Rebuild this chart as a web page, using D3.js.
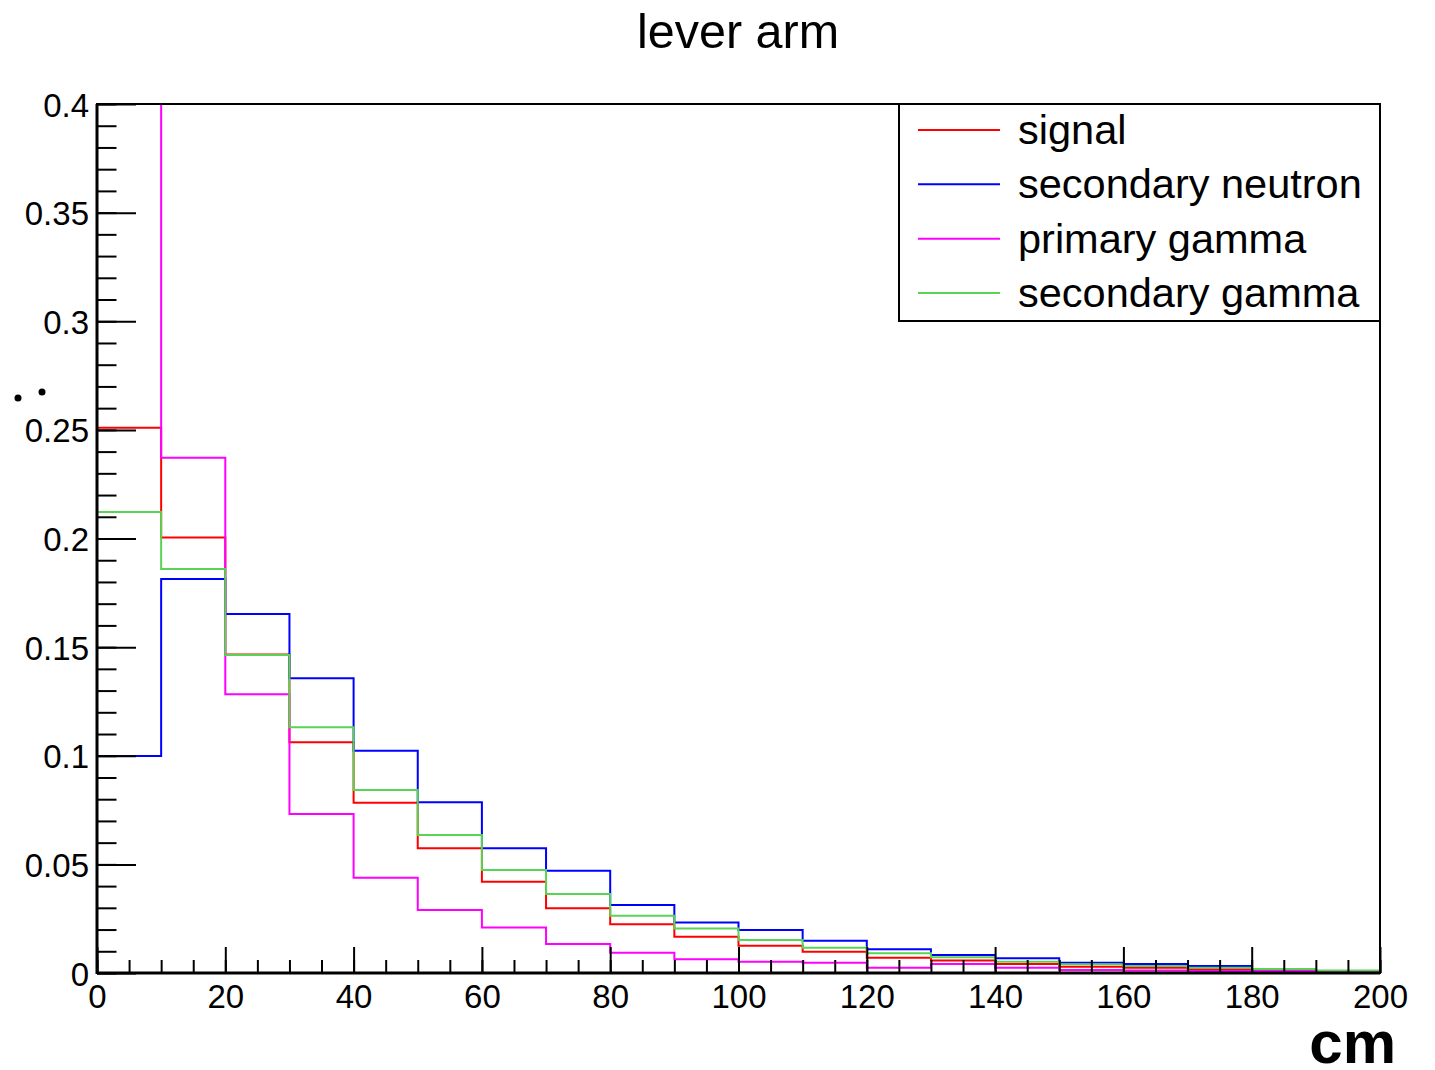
<!DOCTYPE html>
<html>
  <head>
    <meta http-equiv="Content-Type" content="text/html; charset=utf-8" />
    <script src="https://d3js.org/d3.v7.min.js"></script>
    <style>
      body {
        margin: 0;
        background: white;
        font-family: 'Liberation Sans', Arial, Helvetica, sans-serif;
      }
      svg text { fill: black; }
    </style>
  </head>
  <body>
    <div id="wrapper"></div>
    <script>

// bin edges in cm (20 bins of 10 cm)
const binLow = [0, 10, 20, 30, 40, 50, 60, 70, 80, 90, 100, 110, 120, 130, 140, 150, 160, 170, 180, 190]
const binWidth = 10

// normalised histogram contents
const signal = [0.251, 0.2005, 0.1466, 0.1062, 0.0784, 0.0574, 0.0420, 0.0298, 0.0224, 0.0167,
                0.0126, 0.0098, 0.0070, 0.0057, 0.0041, 0.0029, 0.0024, 0.0017, 0.0014, 0.0007]
const secondaryNeutron = [0.0999, 0.1814, 0.1652, 0.1357, 0.1023, 0.0786, 0.0574, 0.0471, 0.0313, 0.0232,
                0.0198, 0.0149, 0.0109, 0.0083, 0.0068, 0.0047, 0.0041, 0.0032, 0.0018, 0.0009]
const primaryGamma = [0.416, 0.2372, 0.1283, 0.0732, 0.0439, 0.0290, 0.0210, 0.0133, 0.0093, 0.0063,
                0.0052, 0.0047, 0.0024, 0.0041, 0.0024, 0.0014, 0.0011, 0.0009, 0.0009, 0.0005]
const secondaryGamma = [0.2122, 0.1860, 0.1464, 0.1131, 0.0842, 0.0635, 0.0474, 0.0364, 0.0264, 0.0205,
                0.0152, 0.0116, 0.0091, 0.0072, 0.0052, 0.0040, 0.0032, 0.0024, 0.0018, 0.0011]

const seriesNames = ["signal", "secondary neutron", "primary gamma", "secondary gamma"]
const seriesColors = ["#ff0000", "#0000ff", "#ff00ff", "#59d354"]

const xMajor = [0, 20, 40, 60, 80, 100, 120, 140, 160, 180, 200]
const yMajor = [0, 0.05, 0.1, 0.15, 0.2, 0.25, 0.3, 0.35, 0.4]
const yLabels = ["0", "0.05", "0.1", "0.15", "0.2", "0.25", "0.3", "0.35", "0.4"]

const title = "lever arm"
const xTitle = "cm"

const W = 1435, H = 1070
const frame = {left: 97, right: 1380, top: 104, bottom: 973}

const svg = d3.select("#wrapper").append("svg")
  .attr("width", W)
  .attr("height", H)

const x = d3.scaleLinear().domain([0, 200]).range([frame.left, frame.right])
const y = d3.scaleLinear().domain([0, 0.4]).range([frame.bottom, frame.top])

// clip histograms to the frame (primary gamma first bin goes off the top)
svg.append("clipPath").attr("id", "frameClip")
  .append("rect")
  .attr("x", frame.left).attr("y", frame.top)
  .attr("width", frame.right - frame.left).attr("height", frame.bottom - frame.top)

//////////////// histograms ////////////////
const allSeries = [signal, secondaryNeutron, primaryGamma, secondaryGamma]

function stepPoints(values) {
  let pts = [[binLow[0], 0]]
  values.forEach((v, i) => {
    pts.push([binLow[i], v])
    pts.push([binLow[i] + binWidth, v])
  })
  pts.push([binLow[binLow.length - 1] + binWidth, 0])
  return pts
}

const line = d3.line().x(d => x(d[0])).y(d => y(d[1]))

svg.append("g").attr("clip-path", "url(#frameClip)")
  .selectAll("path")
  .data(allSeries)
  .enter().append("path")
  .attr("d", d => line(stepPoints(d)))
  .attr("fill", "none")
  .attr("stroke", (d, i) => seriesColors[i])
  .attr("stroke-width", 2)

//////////////// axes ////////////////
const tickFont = "33px"

// y minor ticks every 0.01
const yMinor = d3.range(0, 0.4001, 0.01)
svg.append("g")
  .attr("transform", `translate(${frame.left},0)`)
  .call(d3.axisLeft(y).tickValues(yMinor).tickSize(-19.5).tickFormat(""))
  .call(g => g.select(".domain").remove())

svg.append("g")
  .attr("transform", `translate(${frame.left},0)`)
  .call(d3.axisLeft(y).tickValues(yMajor).tickSize(-39).tickPadding(8)
    .tickFormat((d, i) => yLabels[i]))
  .call(g => g.select(".domain").remove())
  .call(g => g.selectAll("text")
    .attr("dy", null).attr("y", 12)
    .style("font-family", "'Liberation Sans', Arial, sans-serif")
    .style("font-size", tickFont))

// x minor ticks every 5
const xMinor = d3.range(0, 200.001, 5)
svg.append("g")
  .attr("transform", `translate(0,${frame.bottom})`)
  .call(d3.axisBottom(x).tickValues(xMinor).tickSize(-13).tickFormat(""))
  .call(g => g.select(".domain").remove())

svg.append("g")
  .attr("transform", `translate(0,${frame.bottom})`)
  .call(d3.axisBottom(x).tickValues(xMajor).tickSize(-26).tickPadding(12))
  .call(g => g.select(".domain").remove())
  .call(g => g.selectAll("text")
    .attr("dy", null).attr("y", 35)
    .style("font-family", "'Liberation Sans', Arial, sans-serif")
    .style("font-size", tickFont))

svg.selectAll(".tick line").attr("stroke", "black").attr("stroke-width", 2)

// frame
svg.append("rect")
  .attr("x", frame.left).attr("y", frame.top)
  .attr("width", frame.right - frame.left).attr("height", frame.bottom - frame.top)
  .attr("fill", "none")
  .attr("stroke", "black")
  .attr("stroke-width", 2)

// axis lines a bit heavier, like the original
svg.append("line")
  .attr("x1", frame.left).attr("x2", frame.left)
  .attr("y1", frame.top).attr("y2", frame.bottom + 1)
  .attr("stroke", "black").attr("stroke-width", 3)
svg.append("line")
  .attr("x1", frame.left).attr("x2", frame.right)
  .attr("y1", frame.bottom).attr("y2", frame.bottom)
  .attr("stroke", "black").attr("stroke-width", 3)

//////////////// titles ////////////////
svg.append("text")
  .attr("x", 738).attr("y", 48)
  .attr("text-anchor", "middle")
  .style("font-size", "48.5px")
  .text(title)

svg.append("text")
  .attr("x", 1396).attr("y", 1063)
  .attr("text-anchor", "end")
  .style("font-size", "60px")
  .style("font-weight", "bold")
  .text(xTitle)

// leftovers of the clipped y title at the left edge
svg.selectAll(".ydot")
  .data([[18, 398], [42, 392]])
  .enter().append("circle")
  .attr("cx", d => d[0]).attr("cy", d => d[1])
  .attr("r", 3.5).attr("fill", "black")

//////////////// legend ////////////////
const legend = svg.append("g")
legend.append("rect")
  .attr("x", 899).attr("y", frame.top)
  .attr("width", frame.right - 899).attr("height", 321 - frame.top)
  .attr("fill", "white")
  .attr("stroke", "black")
  .attr("stroke-width", 2)

const rowY = d3.scalePoint().domain(seriesNames).range([130, 293])

const items = legend.selectAll(".item")
  .data(seriesNames)
  .enter().append("g")
  .attr("transform", d => `translate(0,${rowY(d)})`)

items.append("line")
  .attr("x1", 918).attr("x2", 1000)
  .attr("stroke", (d, i) => seriesColors[i])
  .attr("stroke-width", 2)

items.append("text")
  .attr("x", 1018).attr("y", 14)
  .style("font-size", "41.5px")
  .text(d => d)

    </script>
  </body>
</html>
